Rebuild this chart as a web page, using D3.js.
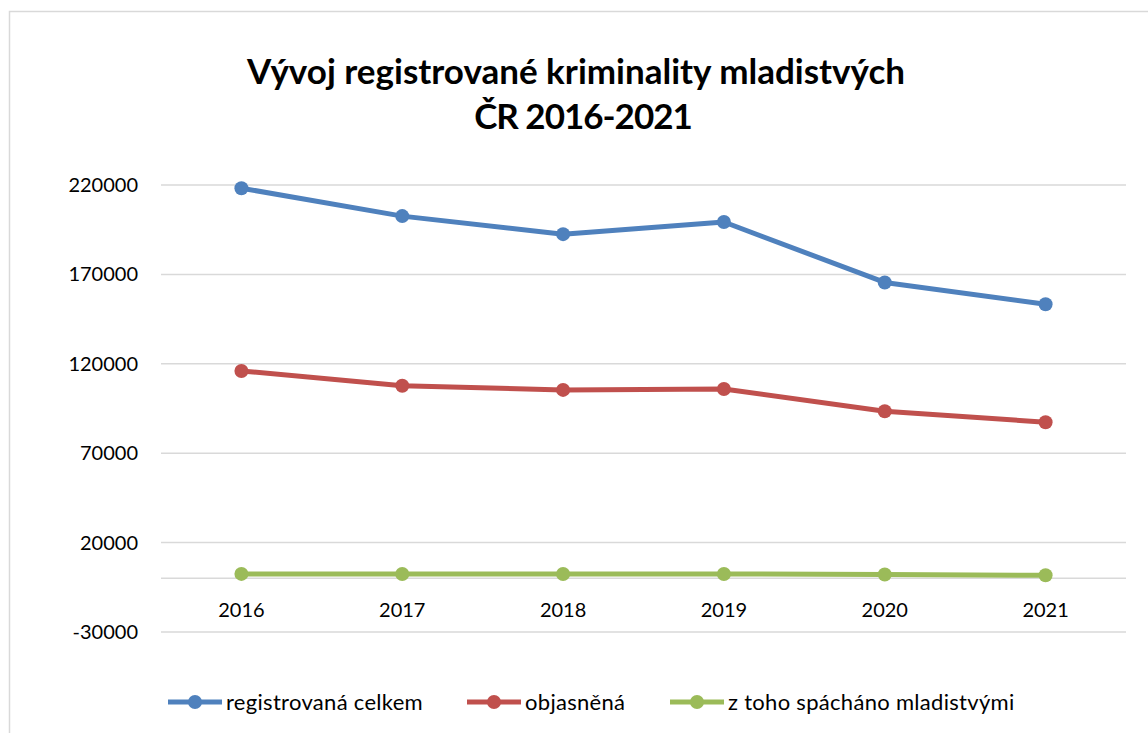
<!DOCTYPE html>
<html>
<head>
<meta charset="utf-8">
<script src="https://cdn.jsdelivr.net/npm/d3@7"></script>
<style>
  body { margin: 0; background: #fff; }
  svg { display: block; font-family: Lato, 'Open Sans', sans-serif; }
</style>
</head>
<body>
<div id="chart"></div>
<script>
// Vývoj registrované kriminality mladistvých ČR 2016-2021
const years = ['2016', '2017', '2018', '2019', '2020', '2021'];
const registrovana = [218200, 202600, 192500, 199300, 165500, 153300];
const objasnena = [116000, 107700, 105400, 105900, 93500, 87300];
const mladistvi = [2500, 2450, 2400, 2450, 2150, 1700];
const seriesNames = ['registrovaná celkem', 'objasněná', 'z toho spácháno mladistvými'];
const yTicks = [-30000, 20000, 70000, 120000, 170000, 220000];

const width = 1148;
const height = 733;
const colors = ['#4f81bd', '#c0504d', '#9bbb59'];

const series = [registrovana, objasnena, mladistvi].map((values, i) => ({
    name: seriesNames[i],
    color: colors[i],
    values: values.map((v, j) => ({ year: years[j], value: v }))
}));

const svg = d3.select('#chart')
    .append('svg')
    .attr('width', width)
    .attr('height', height);

// Chart area border (runs off the right and bottom edge)
svg.append('rect')
    .attr('x', 9.5)
    .attr('y', 11.5)
    .attr('width', 1160)
    .attr('height', 760)
    .attr('fill', 'none')
    .attr('stroke', '#d9d9d9')
    .attr('stroke-width', 1.5);

// Title
const title = svg.append('text')
    .attr('text-anchor', 'middle')
    .style('font-size', '35px')
    .style('font-weight', '700')
    .style('fill', '#000');
title.append('tspan').attr('x', 576).attr('y', 84).text('Vývoj registrované kriminality mladistvých');
title.append('tspan').attr('x', 583).attr('y', 129)
    .style('letter-spacing', '-1px')
    .text('ČR 2016-2021');

// Scales
const x = d3.scalePoint()
    .domain(years)
    .range([161, 1126])
    .padding(0.5);

const y = d3.scaleLinear()
    .domain([-30000, 220000])
    .range([632, 185]);

// Gridlines
svg.append('g')
    .selectAll('line')
    .data(yTicks)
    .enter()
    .append('line')
    .attr('x1', 161)
    .attr('x2', 1126)
    .attr('y1', d => y(d))
    .attr('y2', d => y(d))
    .attr('stroke', '#d9d9d9')
    .attr('stroke-width', 1.5);

// Horizontal axis line at zero
svg.append('line')
    .attr('x1', 161)
    .attr('x2', 1126)
    .attr('y1', y(0))
    .attr('y2', y(0))
    .attr('stroke', '#d9d9d9')
    .attr('stroke-width', 1.5);

// Y tick labels
svg.append('g')
    .selectAll('text')
    .data(yTicks)
    .enter()
    .append('text')
    .attr('x', 138)
    .attr('y', d => y(d))
    .attr('dy', '0.35em')
    .attr('text-anchor', 'end')
    .style('font-size', '20px')
    .style('fill', '#000')
    .text(d => d);

// X labels, just below the zero line
svg.append('g')
    .selectAll('text')
    .data(years)
    .enter()
    .append('text')
    .attr('x', d => x(d))
    .attr('y', y(0) + 32)
    .attr('dy', '0.35em')
    .attr('text-anchor', 'middle')
    .style('font-size', '20px')
    .style('fill', '#000')
    .text(d => d);

// Lines and markers
const line = d3.line()
    .x(d => x(d.year))
    .y(d => y(d.value));

const groups = svg.selectAll('.series')
    .data(series)
    .enter()
    .append('g')
    .attr('class', 'series');

groups.append('path')
    .attr('d', d => line(d.values))
    .attr('fill', 'none')
    .attr('stroke', d => d.color)
    .attr('stroke-width', 5)
    .attr('stroke-linejoin', 'round');

groups.selectAll('circle')
    .data(d => d.values.map(v => ({ ...v, color: d.color })))
    .enter()
    .append('circle')
    .attr('cx', d => x(d.year))
    .attr('cy', d => y(d.value))
    .attr('r', 7)
    .attr('fill', d => d.color);

// Legend
const legendX = [168, 467, 670];
const legend = svg.append('g');
series.forEach((s, i) => {
    const item = legend.append('g')
        .attr('transform', `translate(${legendX[i]}, 702)`);
    item.append('line')
        .attr('x1', 0)
        .attr('x2', 54)
        .attr('stroke', s.color)
        .attr('stroke-width', 5);
    item.append('circle')
        .attr('cx', 27)
        .attr('r', 7)
        .attr('fill', s.color);
    item.append('text')
        .attr('x', 58)
        .attr('dy', '0.35em')
        .style('font-size', '22px')
        .style('letter-spacing', '0.3px')
        .style('fill', '#000')
        .text(s.name);
});
</script>
</body>
</html>
